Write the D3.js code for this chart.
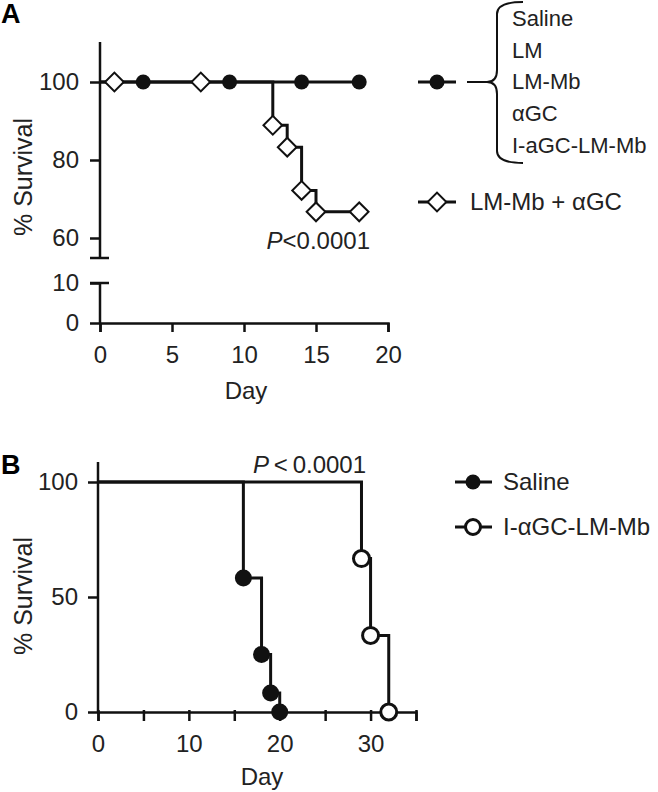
<!DOCTYPE html>
<html>
<head>
<meta charset="utf-8">
<script src="https://cdn.jsdelivr.net/npm/d3@7"></script>
<style>
  body { margin: 0; background: #fff; }
  svg { font-family: "Liberation Sans", Arial, sans-serif; }
  .tick text { font-size: 24px; fill: #222; }
</style>
</head>
<body>
<svg id="chart" width="658" height="792"></svg>
<script>
"use strict";

// Panel A data (day, % survival)
const ctrlCurveA = [[0, 100], [18, 100]];
const ctrlMarksA = [[3, 100], [9, 100], [14, 100], [18, 100]];
const comboCurveA = [[0, 100], [12, 88.9], [13, 83.3], [14, 72.2], [15, 66.7], [18, 66.7]];
const comboMarksA = [[1, 100], [7, 100], [12, 88.9], [13, 83.3], [14, 72.2], [15, 66.7], [18, 66.7]];
const bracketNames = ["Saline", "LM", "LM-Mb", "\u03b1GC", "I-aGC-LM-Mb"];
const xTicksA = [0, 5, 10, 15, 20];
const yTicksTopA = [60, 80, 100];
const yTicksBotA = [0, 10];

// Panel B data
const salineCurveB = [[0, 100], [16, 58.3], [18, 25], [19, 8.3], [20, 0]];
const salineMarksB = [[16, 58.3], [18, 25], [19, 8.3], [20, 0]];
const vaccCurveB = [[0, 100], [29, 66.7], [30, 33.3], [32, 0]];
const vaccMarksB = [[29, 66.7], [30, 33.3], [32, 0]];
const xTicksB = [0, 5, 10, 15, 20, 25, 30, 35];
const yTicksB = [0, 50, 100];

const svg = d3.select("#chart");
const ink = "#111";
const txt = "#222";

// ---------- Panel A ----------
const xA = d3.scaleLinear().domain([0, 20]).range([100, 388]);
const yTop = d3.scaleLinear().domain([55, 110]).range([257.5, 43]);
const yBot = d3.scaleLinear().domain([0, 10]).range([323, 283]);
const yA = v => v >= 55 ? yTop(v) : yBot(v);

const gA = svg.append("g");

gA.append("text").attr("x", 1).attr("y", 23)
  .style("font-size", "27px").style("font-weight", "bold").text("A");

// y axis, upper segment
const axTop = gA.append("g").attr("transform", "translate(100,0)")
  .call(d3.axisLeft(yTop).tickValues(yTicksTopA).tickSizeOuter(0).tickSize(10).tickPadding(11));
axTop.select(".domain").attr("d", "M0,42V258");
// y axis, lower segment
const axBot = gA.append("g").attr("transform", "translate(100,0)")
  .call(d3.axisLeft(yBot).tickValues(yTicksBotA).tickSizeOuter(0).tickSize(10).tickPadding(11));
axBot.select(".domain").attr("d", "M0,283V323");
// break caps
[258, 283].forEach(y => {
  gA.append("line").attr("x1", 90).attr("x2", 109).attr("y1", y).attr("y2", y)
    .attr("stroke", ink).attr("stroke-width", 2.5);
});

// x axis
const axXA = gA.append("g").attr("transform", "translate(0,323)")
  .call(d3.axisBottom(xA).tickValues(xTicksA).tickSizeOuter(0).tickSize(9).tickPadding(14));

[axTop, axBot, axXA].forEach(a => {
  a.selectAll("path, line").attr("stroke", ink).attr("stroke-width", 2.5);
});

gA.append("text").attr("transform", "translate(32,177) rotate(-90)")
  .attr("text-anchor", "middle").style("font-size", "25px").attr("fill", txt).text("% Survival");
gA.append("text").attr("x", 246).attr("y", 399)
  .attr("text-anchor", "middle").style("font-size", "24px").attr("fill", txt).text("Day");

const stepA = d3.line().x(d => xA(d[0])).y(d => yA(d[1])).curve(d3.curveStepAfter);

gA.append("path").attr("d", stepA(ctrlCurveA)).attr("fill", "none")
  .attr("stroke", ink).attr("stroke-width", 3);
gA.append("path").attr("d", stepA(comboCurveA)).attr("fill", "none")
  .attr("stroke", ink).attr("stroke-width", 3);

gA.selectAll("circle.ctrl").data(ctrlMarksA).enter().append("circle")
  .attr("cx", d => xA(d[0])).attr("cy", d => yA(d[1])).attr("r", 7.5)
  .attr("fill", ink);

const diamond = d3.symbol().type(d3.symbolSquare).size(175);
gA.selectAll("path.combo").data(comboMarksA).enter().append("path")
  .attr("d", diamond)
  .attr("transform", d => "translate(" + xA(d[0]) + "," + yA(d[1]) + ") rotate(45)")
  .attr("fill", "#fff").attr("stroke", ink).attr("stroke-width", 2);

const pA = gA.append("text").attr("x", 370).attr("y", 249).attr("text-anchor", "end")
  .style("font-size", "24px").attr("fill", txt);
pA.append("tspan").style("font-style", "italic").text("P");
pA.append("tspan").text("<0.0001");

// legend A
const legA = gA.append("g");
legA.append("line").attr("x1", 418).attr("x2", 456).attr("y1", 82).attr("y2", 82)
  .attr("stroke", ink).attr("stroke-width", 3);
legA.append("circle").attr("cx", 437).attr("cy", 82).attr("r", 7.5).attr("fill", ink);
legA.append("line").attr("x1", 467).attr("x2", 490).attr("y1", 82).attr("y2", 82)
  .attr("stroke", ink).attr("stroke-width", 2);
legA.append("path")
  .attr("d", "M523,2 Q497,2 497,14 L497,70 Q497,82 487,82 Q497,82 497,94 L497,151 Q497,163 523,163")
  .attr("fill", "none").attr("stroke", ink).attr("stroke-width", 2);
legA.selectAll("text.bn").data(bracketNames).enter().append("text")
  .attr("x", 512).attr("y", (d, i) => 18 + i * 31.8).attr("dy", "0.35em")
  .style("font-size", "22px").attr("fill", txt).text(d => d);

legA.append("line").attr("x1", 418).attr("x2", 456).attr("y1", 202).attr("y2", 202)
  .attr("stroke", ink).attr("stroke-width", 3);
legA.append("path").attr("d", diamond)
  .attr("transform", "translate(437,202) rotate(45)")
  .attr("fill", "#fff").attr("stroke", ink).attr("stroke-width", 2);
legA.append("text").attr("x", 470).attr("y", 202).attr("dy", "0.35em")
  .style("font-size", "24px").attr("fill", txt).text("LM-Mb + \u03b1GC");

// ---------- Panel B ----------
const xB = d3.scaleLinear().domain([0, 35]).range([98, 416]);
const yB = d3.scaleLinear().domain([0, 100]).range([712, 482]);

const gB = svg.append("g");
gB.append("text").attr("x", 1).attr("y", 474)
  .style("font-size", "27px").style("font-weight", "bold").text("B");

const axYB = gB.append("g").attr("transform", "translate(98,0)")
  .call(d3.axisLeft(yB).tickValues(yTicksB).tickSizeOuter(0).tickSize(10).tickPadding(10));
axYB.select(".domain").attr("d", "M0,462V712");
const axXB = gB.append("g").attr("transform", "translate(0,712)")
  .call(d3.axisBottom(xB).tickValues(xTicksB).tickSizeOuter(0).tickSize(9).tickPadding(14)
    .tickFormat(d => d % 10 === 0 ? d : ""));
axXB.selectAll(".tick line").attr("y1", -2);
[axYB, axXB].forEach(a => {
  a.selectAll("path, line").attr("stroke", ink).attr("stroke-width", 2.5);
});

gB.append("text").attr("transform", "translate(32,596) rotate(-90)")
  .attr("text-anchor", "middle").style("font-size", "25px").attr("fill", txt).text("% Survival");
gB.append("text").attr("x", 262).attr("y", 785)
  .attr("text-anchor", "middle").style("font-size", "24px").attr("fill", txt).text("Day");

const stepB = d3.line().x(d => xB(d[0])).y(d => yB(d[1])).curve(d3.curveStepAfter);
gB.append("path").attr("d", stepB(vaccCurveB)).attr("fill", "none")
  .attr("stroke", ink).attr("stroke-width", 3);
gB.append("path").attr("d", stepB(salineCurveB)).attr("fill", "none")
  .attr("stroke", ink).attr("stroke-width", 3);

gB.selectAll("circle.sal").data(salineMarksB).enter().append("circle")
  .attr("cx", d => xB(d[0])).attr("cy", d => yB(d[1])).attr("r", 8.5).attr("fill", ink);
gB.selectAll("circle.vac").data(vaccMarksB).enter().append("circle")
  .attr("cx", d => xB(d[0])).attr("cy", d => yB(d[1])).attr("r", 8)
  .attr("fill", "#fff").attr("stroke", ink).attr("stroke-width", 3);

const pB = gB.append("text").attr("x", 253).attr("y", 473)
  .style("font-size", "24px").attr("fill", txt);
pB.append("tspan").style("font-style", "italic").text("P");
pB.append("tspan").text("\u2009<\u20090.0001");

// legend B
const legB = gB.append("g");
[["Saline", 482, ink], ["I-\u03b1GC-LM-Mb", 527, "#fff"]].forEach(([name, y, fill]) => {
  legB.append("line").attr("x1", 455).attr("x2", 492).attr("y1", y).attr("y2", y)
    .attr("stroke", ink).attr("stroke-width", 3);
  legB.append("circle").attr("cx", 473).attr("cy", y).attr("r", 7.5)
    .attr("fill", fill).attr("stroke", ink).attr("stroke-width", fill === ink ? 0 : 3);
  legB.append("text").attr("x", 503).attr("y", y).attr("dy", "0.35em")
    .style("font-size", "24px").attr("fill", txt).text(name);
});
</script>
</body>
</html>
